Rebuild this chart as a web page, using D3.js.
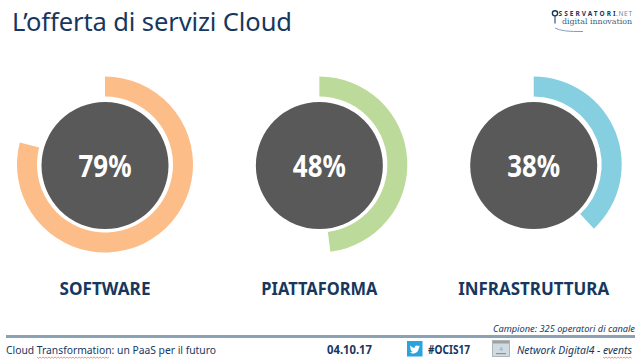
<!DOCTYPE html>
<html><head><meta charset="utf-8">
<script src="https://cdn.jsdelivr.net/npm/d3@7"></script>
<style>html,body{margin:0;background:#fff}svg{display:block}text{font-family:"Noto Sans",sans-serif}</style>
</head><body><svg id="c" width="640" height="360"></svg>
<script>
const categories=["SOFTWARE","PIATTAFORMA","INFRASTRUTTURA"];
const values=[79,48,38];
const colors=["#fdbd88","#bcdb9a","#85cfe0"];
const svg=d3.select("#c");
const navy="#17375e";
const cx=d3.scalePoint().domain(categories).range([105,533.7]);
const angle=d3.scaleLinear().domain([0,100]).range([0,2*Math.PI]);
const arc=d3.arc().innerRadius(68).outerRadius(88).startAngle(0);
const cy=164.5;
const g=svg.selectAll("g.d").data(categories).join("g").attr("class","d").attr("transform",d=>`translate(${cx(d)},${cy})`);
g.append("path").attr("d",(d,i)=>arc({endAngle:angle(values[i])})).attr("fill",(d,i)=>colors[i]);
g.append("circle").attr("r",63.5).attr("cy",1).attr("fill","#595959");
g.append("text").attr("text-anchor","middle").attr("y",12).attr("font-size",30).attr("font-weight",700).attr("fill","#fff").attr("textLength",53).attr("lengthAdjust","spacingAndGlyphs").text((d,i)=>values[i]+"%");
g.append("text").attr("text-anchor","middle").attr("y",130).attr("font-size",18).attr("font-weight",700).attr("fill",navy).attr("textLength",(d,i)=>[91,116,151][i]).attr("lengthAdjust","spacingAndGlyphs").text(d=>d);
function T(x,y,s,size,opt={}){const t=svg.append("text").attr("x",x).attr("y",y).attr("font-size",size).attr("fill",opt.fill||navy).text(s);
 if(opt.w)t.attr("textLength",opt.w).attr("lengthAdjust",opt.adj||"spacingAndGlyphs");
 if(opt.bold)t.attr("font-weight",700);if(opt.italic)t.attr("font-style","italic");if(opt.anchor)t.attr("text-anchor",opt.anchor);if(opt.family)t.style("font-family",opt.family);return t;}
T(12,31,"L’offerta di servizi Cloud",25.5,{w:280,adj:"spacing"});
T(6,354,"Cloud Transformation: un PaaS per il futuro",11.5,{w:210});
T(327,354,"04.10.17",11.5,{bold:true,w:45});
T(428,354,"#OCIS17",11.5,{bold:true,w:42});
T(517,354,"Network Digital4 - events",11,{italic:true,w:115});
T(635,332,"Campione: 325 operatori di canale",9.5,{italic:true,anchor:"end",w:142});
svg.append("rect").attr("x",6).attr("y",335).attr("width",629).attr("height",3).attr("fill","#8ba2b4");
function wavy(x0,x1,y){let p=`M${x0},${y}`;for(let x=x0+1.5,k=0;x<=x1;x+=1.5,k++)p+=`L${x},${y+(k%2?0:1.2)}`;svg.append("path").attr("d",p).attr("fill","none").attr("stroke","#e05050").attr("stroke-width",.6);}
wavy(37,110,357);wavy(603,632,357);
// twitter tile
svg.append("rect").attr("x",407).attr("y",341).attr("width",15.5).attr("height",15.5).attr("fill","#2aa3de");
svg.append("path").attr("d","M410,345.5C411.5,347 413,347.8 414.6,347.9C414.3,345.8 416.6,344.6 418,346L419.6,345.5L418.8,346.8L420,346.5C419.6,347.2 419.2,347.6 418.8,347.9C418.9,351 416,353.6 412.8,353.4C411.6,353.4 410.6,353 409.8,352.5C410.9,352.6 411.9,352.3 412.7,351.7C411.8,351.6 411.1,351.1 410.8,350.3L411.8,350.2C410.8,349.9 410.2,349.1 410.2,348.2L411.2,348.4C410.1,347.6 409.8,346.6 410,345.5Z").attr("fill","#fff");
// network tile
svg.append("rect").attr("x",492.5).attr("y",340.5).attr("width",17).attr("height",16).attr("fill","#cfdbe0").attr("stroke","#a0a8ac").attr("stroke-width",.8);
svg.append("rect").attr("x",493).attr("y",341).attr("width",16).attr("height",2.5).attr("fill","#9aa2a6");
T(501,351,"4",6,{anchor:"middle",fill:"#7fa6c0"});
svg.append("rect").attr("x",496).attr("y",353).attr("width",10).attr("height",1.2).attr("fill","#8a9296");
// logo
svg.append("circle").attr("cx",555).attr("cy",13.3).attr("r",2.6).attr("fill","none").attr("stroke",navy).attr("stroke-width",1.4);
svg.append("line").attr("x1",555).attr("x2",555).attr("y1",16).attr("y2",23.5).attr("stroke",navy).attr("stroke-width",1);
T(558.5,15.8,"SSERVATORI",6.5,{bold:true,w:57,adj:"spacing"});
T(616,15.8,".NET",6.5,{fill:"#6f8aa3",w:16,adj:"spacing"});
T(562,24,"digital innovation",7.5,{family:"'DejaVu Serif',serif",fill:"#2f5f86",w:70});
svg.append("path").attr("d","M555,28Q562,32 583,31.5").attr("fill","none").attr("stroke","#7fa0b8").attr("stroke-width",1);
</script></body></html>
